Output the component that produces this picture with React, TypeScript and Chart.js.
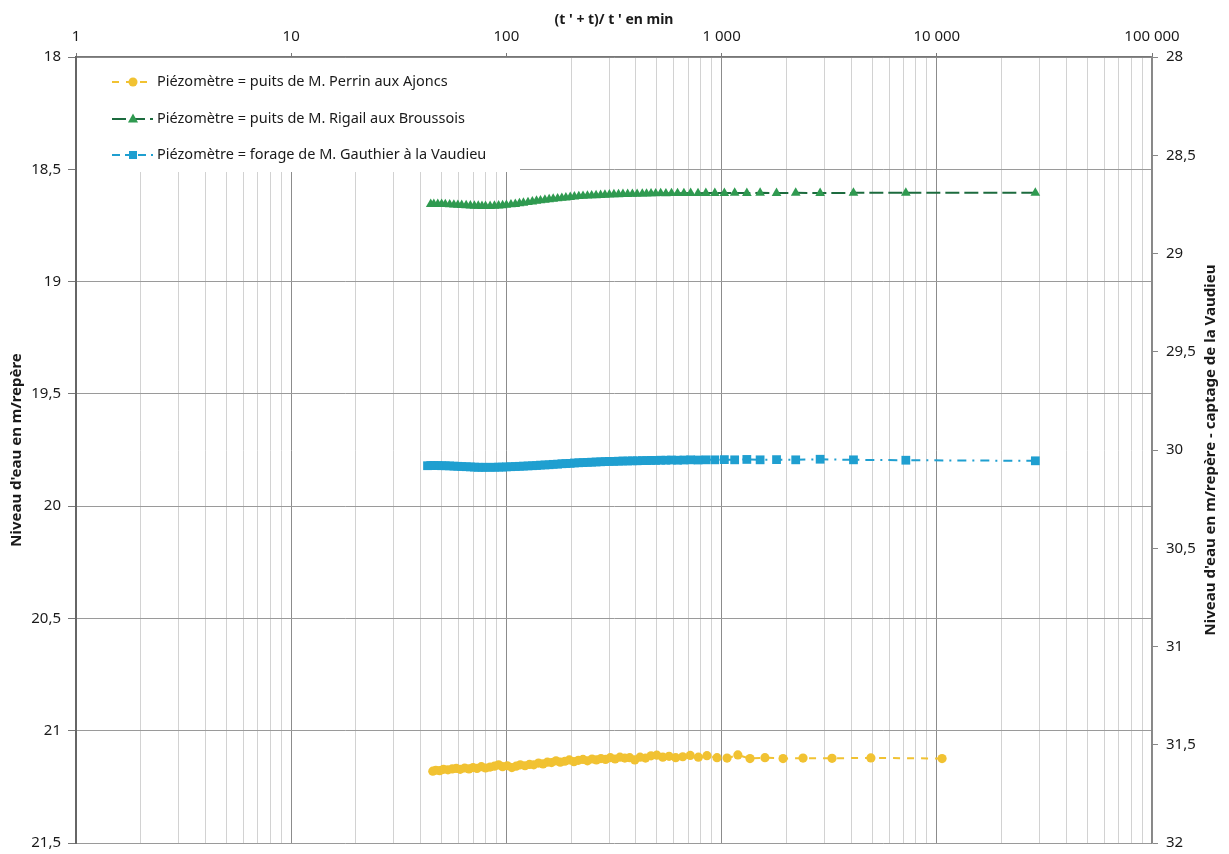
import React, { useEffect, useRef } from "react";
import { Chart, registerables } from "chart.js";

Chart.register(...registerables);

// (t'+t)/t' values shared by the Rigail and Gauthier piezometers
const xRigailGauthier = [
  28700, 7180, 4100, 2870, 2210, 1800, 1510, 1310, 1150, 1030, 930, 845, 777, 718, 668, 624, 585, 551, 521, 494,
  470, 448, 428, 405, 385, 366, 348, 332, 316, 301, 287, 274, 261, 249, 238, 227, 217, 207, 198, 189, 181, 173,
  165, 158, 151, 144, 138, 132, 126, 120, 115, 110, 105, 100, 96, 92, 88, 84, 80, 77, 74, 71, 68, 65, 62, 59.5,
  57, 54.5, 52, 50, 48, 46, 44.5, 43,
];

// Niveau (m/repère) – puits de M. Rigail aux Broussois (left axis)
const yRigail = [
  18.605, 18.605, 18.605, 18.606, 18.605, 18.606, 18.605, 18.606, 18.605, 18.606, 18.606, 18.606, 18.607, 18.606,
  18.607, 18.607, 18.607, 18.608, 18.607, 18.608, 18.608, 18.609, 18.609, 18.61, 18.61, 18.611, 18.611, 18.612,
  18.612, 18.613, 18.614, 18.615, 18.616, 18.617, 18.618, 18.619, 18.62, 18.622, 18.624, 18.626, 18.628, 18.63,
  18.632, 18.634, 18.636, 18.639, 18.641, 18.644, 18.647, 18.65, 18.652, 18.655, 18.657, 18.659, 18.661, 18.662,
  18.663, 18.664, 18.664, 18.664, 18.663, 18.663, 18.662, 18.661, 18.66, 18.659, 18.658, 18.657, 18.656, 18.655,
  18.655, 18.655, 18.655, null,
];

// Niveau (m/repère) – forage de M. Gauthier à la Vaudieu (right axis)
const yGauthier = [
  30.055, 30.052, 30.05, 30.047, 30.05, 30.049, 30.05, 30.048, 30.05, 30.049, 30.05, 30.05, 30.051, 30.05,
  30.051, 30.052, 30.051, 30.052, 30.052, 30.053, 30.053, 30.054, 30.054, 30.055, 30.055, 30.056, 30.056, 30.057,
  30.058, 30.058, 30.059, 30.06, 30.061, 30.062, 30.063, 30.064, 30.065, 30.066, 30.068, 30.069, 30.07, 30.072,
  30.073, 30.075, 30.076, 30.077, 30.079, 30.08, 30.081, 30.082, 30.083, 30.084, 30.085, 30.086, 30.087, 30.087,
  30.088, 30.088, 30.088, 30.088, 30.088, 30.087, 30.086, 30.085, 30.084, 30.083, 30.082, 30.081, 30.08, 30.08,
  30.079, 30.079, 30.079, 30.08,
];

// (t'+t)/t' values for the Perrin piezometer
const xPerrin = [
  10580, 4940, 3260, 2390, 1930, 1590, 1355, 1190, 1060, 952, 855, 780, 715, 660, 612, 570, 533, 500, 470, 443,
  418, 395, 374, 355, 337, 320, 304, 289, 275, 262, 250, 238, 227, 216, 206, 196, 187, 178, 170, 162, 155, 148,
  141, 134, 128, 122, 116, 111, 106, 101, 96, 92, 88, 84, 80, 76.5, 73, 70, 67, 64, 61, 58.5, 56, 53.5, 51, 49,
  47, 45.5,
];

// Niveau (m/repère) – puits de M. Perrin aux Ajoncs (left axis)
const yPerrin = [
  21.124, 21.121, 21.123, 21.122, 21.124, 21.12, 21.124, 21.108, 21.122, 21.12, 21.111, 21.118, 21.11, 21.116,
  21.12, 21.114, 21.118, 21.109, 21.112, 21.122, 21.118, 21.13, 21.12, 21.122, 21.118, 21.126, 21.12, 21.128,
  21.124, 21.13, 21.126, 21.134, 21.128, 21.132, 21.138, 21.13, 21.136, 21.14, 21.134, 21.142, 21.14, 21.148,
  21.144, 21.152, 21.15, 21.156, 21.152, 21.158, 21.164, 21.156, 21.16, 21.152, 21.158, 21.162, 21.166, 21.16,
  21.168, 21.164, 21.17, 21.166, 21.172, 21.168, 21.17, 21.174, 21.172, 21.178, 21.176, 21.18,
];

const seriesLabels = [
  "Piézomètre = puits de M. Perrin aux Ajoncs",
  "Piézomètre = puits de M. Rigail aux Broussois",
  "Piézomètre = forage de M. Gauthier à la Vaudieu",
];

const xAxisTitle = "(t ' + t)/ t ' en min";
const leftAxisTitle = "Niveau d'eau en m/repère";
const rightAxisTitle = "Niveau d'eau en m/repère - captage de la Vaudieu";

const xTickValues = [1, 2, 3, 4, 5, 6, 7, 8, 9, 10, 20, 30, 40, 50, 60, 70, 80, 90, 100, 200, 300, 400, 500, 600,
  700, 800, 900, 1000, 2000, 3000, 4000, 5000, 6000, 7000, 8000, 9000, 10000, 20000, 30000, 40000, 50000, 60000,
  70000, 80000, 90000, 100000];

const YELLOW = "#f1c232";
const GREEN_PT = "#2f9a50";
const GREEN_LINE = "#1c6b3e";
const CYAN = "#1f9fd0";
const FONT = "'Noto Sans', 'DejaVu Sans', sans-serif";

function zip(xs: number[], ys: (number | null)[]) {
  return xs.map((x, i) => ({ x, y: ys[i] }));
}

function isDecade(v: number) {
  const l = Math.log10(v);
  return Math.abs(l - Math.round(l)) < 1e-9;
}

function fmtThousands(v: number) {
  return String(v).replace(/\B(?=(\d{3})+(?!\d))/g, " ");
}

const legendStyles = [
  { color: YELLOW, line: YELLOW, dash: [7, 7], style: "circle" },
  { color: GREEN_PT, line: GREEN_LINE, dash: [14, 5], style: "triangle" },
  { color: CYAN, line: CYAN, dash: [8, 5], style: "rect" },
];

function drawMarker(ctx: CanvasRenderingContext2D, style: string, x: number, y: number, color: string) {
  ctx.fillStyle = color;
  ctx.beginPath();
  if (style === "circle") {
    ctx.arc(x, y, 4.5, 0, Math.PI * 2);
  } else if (style === "triangle") {
    ctx.moveTo(x, y - 5.5);
    ctx.lineTo(x + 5, y + 3.5);
    ctx.lineTo(x - 5, y + 3.5);
    ctx.closePath();
  } else {
    ctx.rect(x - 4, y - 4, 8, 8);
  }
  ctx.fill();
}

const overlayPlugin = {
  id: "overlay",
  afterDraw(chart: any) {
    const ctx = chart.ctx as CanvasRenderingContext2D;
    const a = chart.chartArea;
    ctx.save();
    // legend box
    ctx.fillStyle = "#ffffff";
    ctx.fillRect(a.left + 1, a.top + 1, 520 - a.left - 1, 172 - a.top - 1);
    const rows = [82, 119, 155];
    rows.forEach((y, i) => {
      const s = legendStyles[i];
      ctx.save();
      ctx.strokeStyle = s.line;
      ctx.lineWidth = 2;
      ctx.setLineDash(s.dash);
      ctx.beginPath();
      ctx.moveTo(112, y);
      ctx.lineTo(153, y);
      ctx.stroke();
      ctx.restore();
      drawMarker(ctx, s.style, 133, y, s.color);
      ctx.fillStyle = "#1a1a1a";
      ctx.font = `14.5px ${FONT}`;
      ctx.textAlign = "left";
      ctx.textBaseline = "middle";
      ctx.fillText(seriesLabels[i], 157, y);
    });
    // titles
    ctx.fillStyle = "#1a1a1a";
    ctx.font = `bold 14px ${FONT}`;
    ctx.textAlign = "center";
    ctx.textBaseline = "middle";
    ctx.fillText(xAxisTitle, (a.left + a.right) / 2, 20);
    ctx.font = `bold 15px ${FONT}`;
    ctx.save();
    ctx.translate(17, (a.top + a.bottom) / 2);
    ctx.rotate(-Math.PI / 2);
    ctx.fillText(leftAxisTitle, 0, 0);
    ctx.restore();
    ctx.save();
    ctx.translate(1211, (a.top + a.bottom) / 2);
    ctx.rotate(-Math.PI / 2);
    ctx.fillText(rightAxisTitle, 0, 0);
    ctx.restore();
    ctx.restore();
  },
};

export default function App() {
  const ref = useRef<HTMLCanvasElement | null>(null);
  useEffect(() => {
    if (!ref.current) return;
    const chart = new Chart(ref.current, {
      type: "line",
      data: {
        datasets: [
          {
            label: seriesLabels[0],
            data: zip(xPerrin, yPerrin),
            yAxisID: "y",
            borderColor: YELLOW,
            backgroundColor: YELLOW,
            borderWidth: 2,
            borderDash: [7, 7],
            pointStyle: "circle",
            pointRadius: 4.6,
            pointBorderWidth: 0,
            pointBackgroundColor: YELLOW,
          },
          {
            label: seriesLabels[1],
            data: zip(xRigailGauthier, yRigail),
            yAxisID: "y",
            borderColor: GREEN_LINE,
            backgroundColor: GREEN_PT,
            borderWidth: 2,
            borderDash: [14, 5],
            pointStyle: "triangle",
            pointRadius: 5.6,
            pointBorderWidth: 0,
            pointBackgroundColor: GREEN_PT,
          },
          {
            label: seriesLabels[2],
            data: zip(xRigailGauthier, yGauthier),
            yAxisID: "y2",
            borderColor: CYAN,
            backgroundColor: CYAN,
            borderWidth: 2,
            borderDash: [9, 6, 2, 6],
            pointStyle: "rect",
            pointRadius: 6.2,
            pointBorderWidth: 0,
            pointBackgroundColor: CYAN,
          },
        ],
      },
      options: {
        animation: false,
        responsive: false,
        maintainAspectRatio: false,
        layout: { padding: { top: 0, left: 0, right: 0, bottom: 11 } },
        plugins: { legend: { display: false }, tooltip: { enabled: false } },
        elements: { line: { tension: 0 } },
        scales: {
          x: {
            type: "logarithmic",
            position: "top",
            min: 1,
            max: 100000,
            afterBuildTicks: (scale: any) => {
              scale.ticks = xTickValues.map((v) => ({ value: v }));
            },
            afterFit: (scale: any) => {
              scale.height = 57;
              scale.paddingLeft = 0;
              scale.paddingRight = 0;
            },
            ticks: {
              autoSkip: false,
              maxRotation: 0,
              padding: 7,
              color: "#1a1a1a",
              font: { family: FONT, size: 15 },
              callback: (v: any) => (isDecade(Number(v)) ? fmtThousands(Number(v)) : ""),
            },
            grid: {
              color: (c: any) => (c.tick && isDecade(c.tick.value) ? "#8c8c8c" : "#d2d2d2"),
              lineWidth: 1,
              tickLength: 4,
              tickColor: (c: any) => (c.tick && isDecade(c.tick.value) ? "#777" : "rgba(0,0,0,0)"),
            },
            border: { display: true, color: "#777", width: 1.5 },
          },
          y: {
            type: "linear",
            position: "left",
            reverse: true,
            min: 18,
            max: 21.5,
            afterFit: (scale: any) => {
              scale.width = 76;
              scale.paddingTop = 0;
              scale.paddingBottom = 0;
            },
            ticks: {
              stepSize: 0.5,
              padding: 7,
              color: "#1a1a1a",
              font: { family: FONT, size: 15 },
              callback: (v: any) => String(v).replace(".", ","),
            },
            grid: { color: "#9a9a9a", lineWidth: 1, tickLength: 8, tickColor: "#777" },
            border: { display: true, color: "#666", width: 2 },
          },
          y2: {
            type: "linear",
            position: "right",
            reverse: true,
            min: 28,
            max: 32,
            afterFit: (scale: any) => {
              scale.width = 77;
              scale.paddingTop = 0;
              scale.paddingBottom = 0;
            },
            ticks: {
              stepSize: 0.5,
              padding: 8,
              color: "#1a1a1a",
              font: { family: FONT, size: 15 },
              callback: (v: any) => String(v).replace(".", ","),
            },
            grid: { drawOnChartArea: false, tickLength: 6, tickColor: "#888" },
            border: { display: true, color: "#888", width: 1.5 },
          },
        },
      },
      plugins: [overlayPlugin],
    } as any);
    return () => chart.destroy();
  }, []);
  return (
    <div style={{ position: "fixed", left: 0, top: 0, width: 1229, height: 854, background: "#fff" }}>
      <canvas ref={ref} width={1229} height={854} style={{ width: 1229, height: 854, display: "block" }} />
    </div>
  );
}
